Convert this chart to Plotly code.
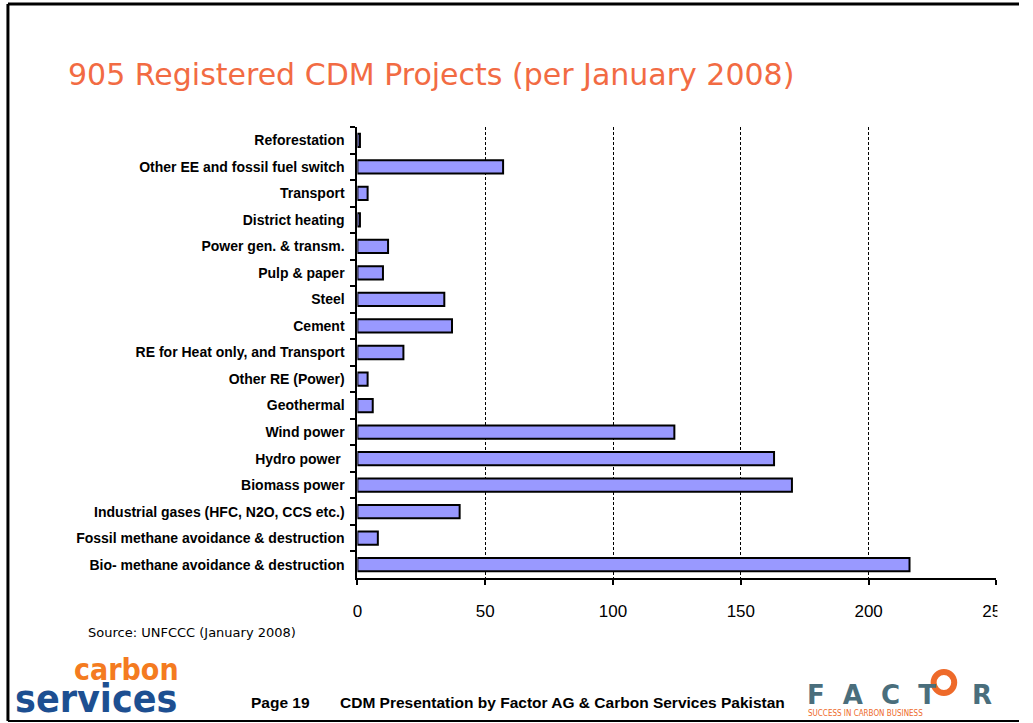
import plotly.graph_objects as go

W, H = 1033, 723

# data (top to bottom as shown on the slide)
categories = [
    "Reforestation",
    "Other EE and fossil fuel switch",
    "Transport",
    "District heating",
    "Power gen. & transm.",
    "Pulp & paper",
    "Steel",
    "Cement",
    "RE for Heat only, and Transport",
    "Other RE (Power)",
    "Geothermal",
    "Wind power",
    "Hydro power ",
    "Biomass power",
    "Industrial gases (HFC, N2O, CCS etc.)",
    "Fossil methane avoidance & destruction",
    "Bio- methane avoidance & destruction",
]
projects = [1, 57, 4, 1, 12, 10, 34, 37, 18, 4, 6, 124, 163, 170, 40, 8, 216]
x_ticks = [0, 50, 100, 150, 200, 250]


def px(x):
    return x / W


def py(y):
    return 1 - y / H


bars = go.Bar(
    x=projects,
    y=categories,
    orientation="h",
    marker=dict(color="#9999FF", line=dict(color="black", width=2)),
    hoverinfo="x+y",
)

layout = go.Layout(
    width=W,
    height=H,
    autosize=False,
    margin=dict(l=0, r=0, t=0, b=0),
    plot_bgcolor="white",
    paper_bgcolor="white",
    showlegend=False,
    bargap=0.5,
    xaxis=dict(
        domain=[px(359), px(1010)],
        range=[0, 250],
        tickvals=x_ticks,
        showgrid=True,
        gridcolor="black",
        gridwidth=1,
        griddash="3px,2px",
        zeroline=False,
        showline=True,
        linecolor="black",
        linewidth=2,
        ticks="outside",
        ticklen=5,
        tickwidth=2,
        tickcolor="black",
        ticklabelstandoff=12,
        tickfont=dict(family="Liberation Sans, Arial", size=17, color="black"),
        fixedrange=True,
    ),
    yaxis=dict(
        domain=[py(578), py(127)],
        autorange="reversed",
        showgrid=False,
        zeroline=False,
        showline=True,
        linecolor="black",
        linewidth=2,
        ticks="outside",
        tickson="boundaries",
        ticklen=5,
        tickwidth=2,
        tickcolor="black",
        ticklabelstandoff=8,
        tickfont=dict(family="Liberation Sans, Arial", size=14, color="black", weight="bold"),
        fixedrange=True,
    ),
)

fig = go.Figure(data=[bars], layout=layout)

# slide frame, and a white mask where the slide is cut off on the right
shapes = [
    dict(type="line", x0=px(3), x1=px(3), y0=py(4), y1=py(721), line=dict(color="black", width=3)),
    dict(type="line", x0=px(3), x1=1, y0=py(4), y1=py(4), line=dict(color="black", width=3)),
    dict(type="line", x0=px(3), x1=1, y0=py(721), y1=py(721), line=dict(color="black", width=2)),
    dict(type="rect", x0=px(1011), x1=1, y0=py(590), y1=py(630), fillcolor="white",
         line=dict(width=0), layer="above"),
    # the O of the FACTOR logo
    dict(type="circle", x0=px(946), x1=px(967), y0=py(693), y1=py(672),
         line=dict(color="#EE6A2A", width=6), fillcolor="white", layer="above"),
]
for s in shapes:
    s.update(xref="paper", yref="paper")
fig.update_layout(shapes=shapes)

ann = [
    dict(text="905 Registered CDM Projects (per January 2008)", x=px(62), y=py(75),
         font=dict(family="DejaVu Sans", size=30, color="#F26B43")),
    dict(text="Source: UNFCCC (January 2008)", x=px(83), y=py(632),
         font=dict(family="DejaVu Sans", size=13, color="black")),
    dict(text="<b>Page 19</b>", x=px(249), y=py(702),
         font=dict(family="Liberation Sans, Arial", size=15.5, color="black")),
    dict(text="<b>CDM Presentation by Factor AG &amp; Carbon Services Pakistan</b>", x=px(339), y=py(702),
         font=dict(family="Liberation Sans, Arial", size=15.5, color="black")),
    dict(text="<b>carbon</b>", x=px(68), y=py(669),
         font=dict(family="DejaVu Sans Condensed", size=30, color="#F47B20")),
    dict(text="<b>services</b>", x=px(8), y=py(698),
         font=dict(family="DejaVu Sans Condensed", size=39, color="#1D4F91")),
    dict(text="<b>F&nbsp;&nbsp;A&nbsp;&nbsp;C&nbsp;&nbsp;T</b>", x=px(815), y=py(695),
         font=dict(family="DejaVu Sans", size=26, color="#4A6E7C")),
    dict(text="<b>R</b>", x=px(983), y=py(695),
         font=dict(family="DejaVu Sans", size=26, color="#4A6E7C")),
    dict(text="SUCCESS IN CARBON BUSINESS", x=px(816), y=py(713),
         font=dict(family="DejaVu Sans Condensed, DejaVu Sans", size=8, color="#EE6A2A")),
]
for a in ann:
    a.update(xref="paper", yref="paper", xanchor="left", yanchor="middle", showarrow=False)
fig.update_layout(annotations=ann)

# no page margin and no scrollbars, so the 1033x723 figure fills the window exactly
page_css = (
    "document.documentElement.style.overflow='hidden';"
    "document.body.style.overflow='hidden';"
    "document.body.style.margin='0';"
)
fig.write_html("out.html", config={"displayModeBar": False}, post_script=page_css)
